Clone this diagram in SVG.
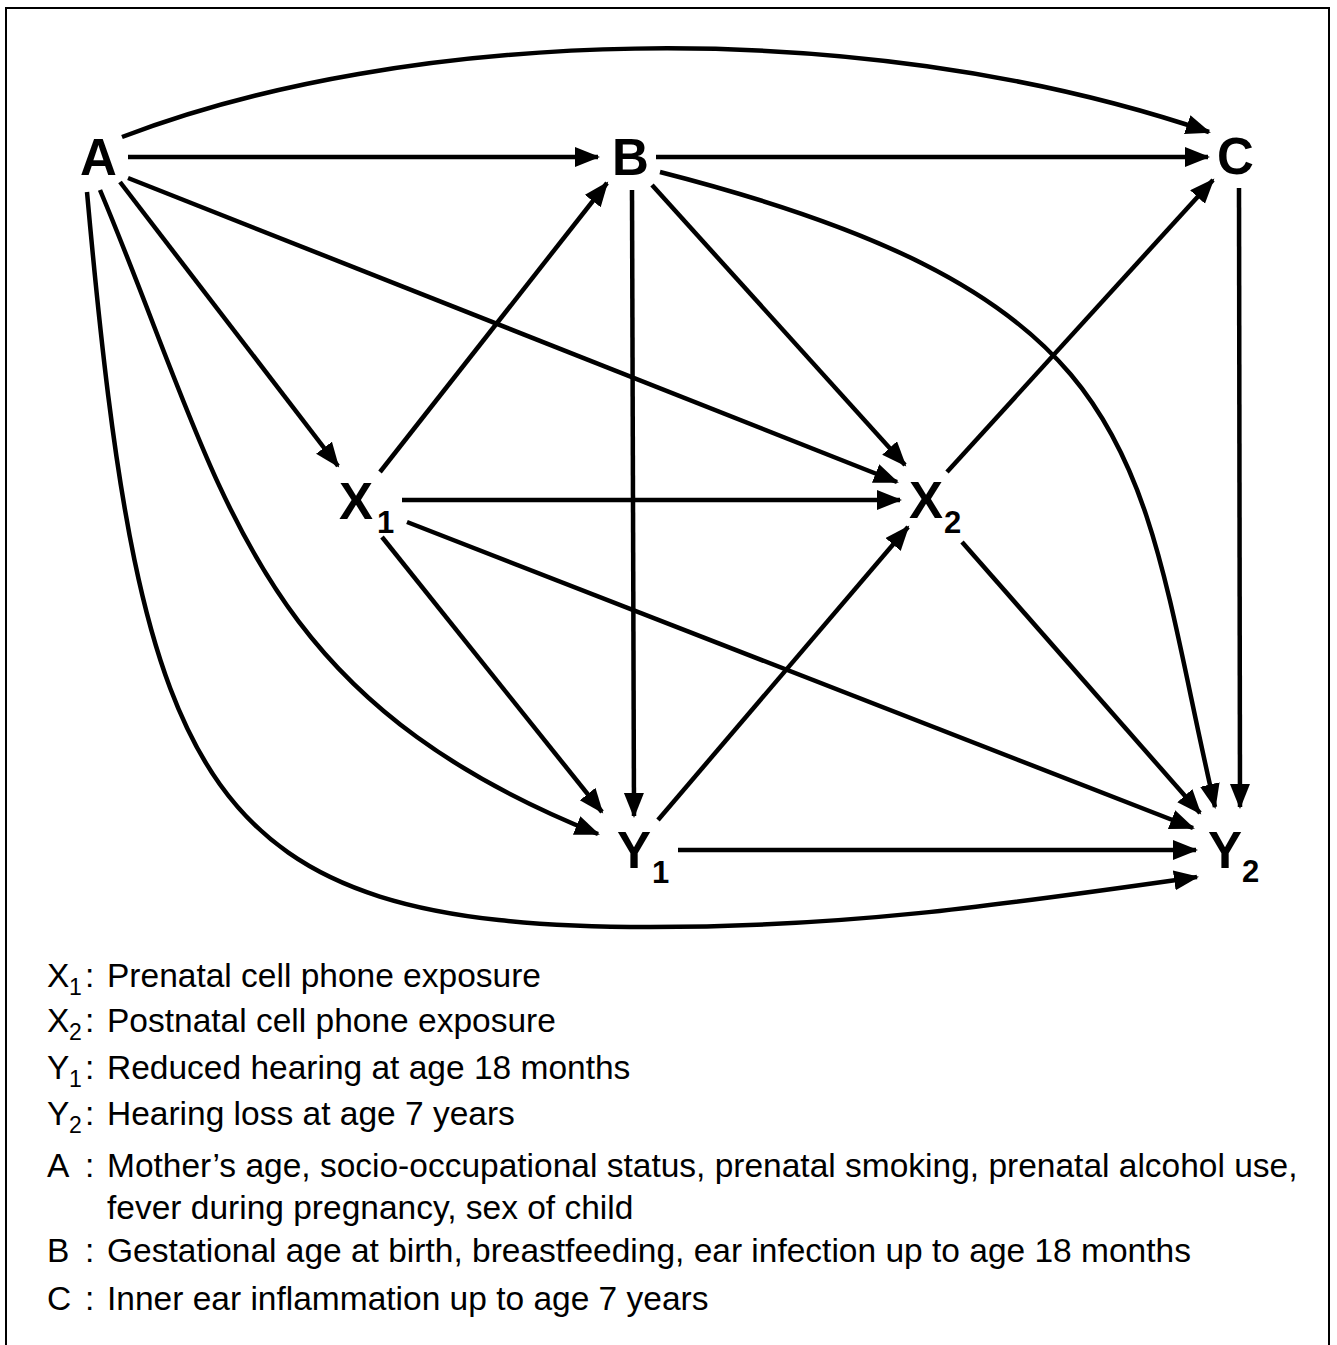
<svg xmlns="http://www.w3.org/2000/svg" width="1337" height="1345" viewBox="0 0 1337 1345">
<style>
.n{font-family:"Liberation Sans",Arial,sans-serif;font-weight:bold;font-size:51px;fill:#000}
.s{font-family:"Liberation Sans",Arial,sans-serif;font-weight:bold;font-size:31px;fill:#000}
.e{fill:none;stroke:#000;stroke-width:4.5;marker-end:url(#ah)}
.l{font-family:"Liberation Sans",Arial,sans-serif;font-size:33.5px;fill:#000}
.ls{font-family:"Liberation Sans",Arial,sans-serif;font-size:23px;fill:#000}
</style>
<defs>
<marker id="ah" markerUnits="userSpaceOnUse" markerWidth="26" markerHeight="22" refX="23" refY="10" orient="auto">
<path d="M0,0 L25,10 L0,20 z" fill="#000"/>
</marker>
</defs>
<rect width="1337" height="1345" fill="#fff"/>
<path d="M6,1350 V8 H1329 V1350" fill="none" stroke="#000" stroke-width="2"/>
<g id="connectors">
<path class="e" d="M122,137 C400,30 850,10 1209,132"/>
<path class="e" d="M128,157 L598,157"/>
<path class="e" d="M656,157 L1208,157"/>
<path class="e" d="M1239,188 L1240,807"/>
<path class="e" d="M660,172 C1160,300 1134,457 1215,807"/>
<path class="e" d="M120,182 L338,466"/>
<path class="e" d="M128,178 L897,482"/>
<path class="e" d="M100,190 C226,490 248,694 598,834"/>
<path class="e" d="M87,192 C141,792 200,927 650,927 C850,927 1000,905 1197,877"/>
<path class="e" d="M380,472 L607,183"/>
<path class="e" d="M632,190 L634,816"/>
<path class="e" d="M652,185 L905,465"/>
<path class="e" d="M402,500 L900,500"/>
<path class="e" d="M382,537 L602,812"/>
<path class="e" d="M407,522 L1193,828"/>
<path class="e" d="M658,820 L908,527"/>
<path class="e" d="M947,472 L1213,180"/>
<path class="e" d="M962,542 L1200,813"/>
<path class="e" d="M678,850 L1196,850"/>
</g>
<g id="node-A"><text class="n" x="80" y="175">A</text></g>
<g id="node-B"><text class="n" x="612" y="175">B</text></g>
<g id="node-C"><text class="n" x="1217" y="174">C</text></g>
<g id="node-X1"><text class="n" x="339" y="519">X</text><text class="s" x="377" y="533">1</text></g>
<g id="node-X2"><text class="n" x="909" y="518">X</text><text class="s" x="944" y="533">2</text></g>
<g id="node-Y1"><text class="n" x="617" y="868">Y</text><text class="s" x="652" y="883">1</text></g>
<g id="node-Y2"><text class="n" x="1208" y="868">Y</text><text class="s" x="1242" y="882">2</text></g>
<g id="legend">
<text class="l" x="47" y="987">X</text><text class="ls" x="69" y="995">1</text><text class="l" x="85" y="987">:</text><text class="l" x="107" y="987">Prenatal cell phone exposure</text>
<text class="l" x="47" y="1032">X</text><text class="ls" x="69" y="1040">2</text><text class="l" x="85" y="1032">:</text><text class="l" x="107" y="1032">Postnatal cell phone exposure</text>
<text class="l" x="47" y="1079">Y</text><text class="ls" x="69" y="1087">1</text><text class="l" x="85" y="1079">:</text><text class="l" x="107" y="1079">Reduced hearing at age 18 months</text>
<text class="l" x="47" y="1125">Y</text><text class="ls" x="69" y="1133">2</text><text class="l" x="85" y="1125">:</text><text class="l" x="107" y="1125">Hearing loss at age 7 years</text>
<text class="l" x="47" y="1177">A</text><text class="l" x="85" y="1177">:</text><text class="l" x="107" y="1177">Mother’s age, socio-occupational status, prenatal smoking, prenatal alcohol use,</text>
<text class="l" x="107" y="1219">fever during pregnancy, sex of child</text>
<text class="l" x="47" y="1262">B</text><text class="l" x="85" y="1262">:</text><text class="l" x="107" y="1262">Gestational age at birth, breastfeeding, ear infection up to age 18 months</text>
<text class="l" x="47" y="1310">C</text><text class="l" x="85" y="1310">:</text><text class="l" x="107" y="1310">Inner ear inflammation up to age 7 years</text>
</g>
</svg>
